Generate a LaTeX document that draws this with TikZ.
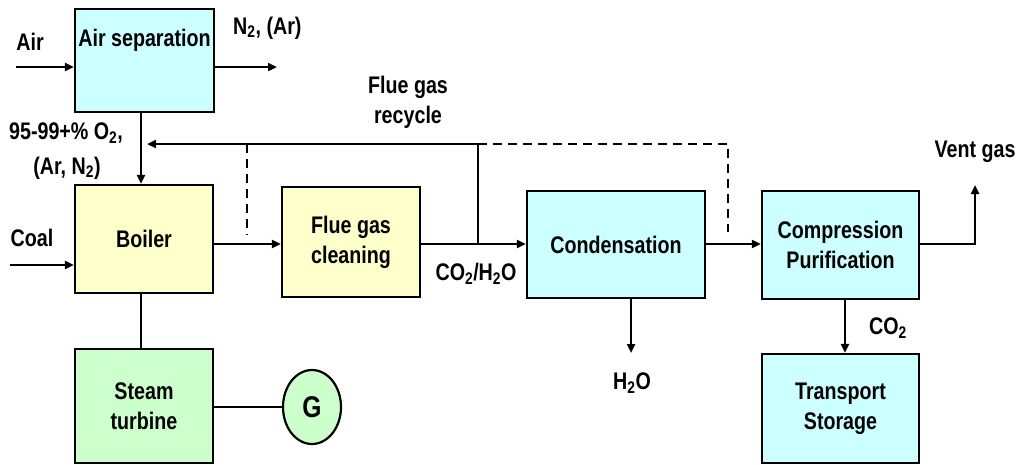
\documentclass[tikz,border=0pt]{standalone}
\usepackage{fontspec}
\setmainfont{Liberation Sans}[FakeStretch=0.82]
\usetikzlibrary{arrows.meta,shapes.geometric}
\definecolor{cy}{HTML}{CCFFFF}
\definecolor{yl}{HTML}{FFFFCC}
\definecolor{gr}{HTML}{CCFFCC}
\begin{document}
\begin{tikzpicture}[x=1pt,y=-1pt,
  box/.style={draw, line width=2.2pt, inner sep=0pt, align=center,
              font=\fontsize{24}{30}\selectfont\bfseries},
  lbl/.style={font=\fontsize{24}{30}\selectfont\bfseries, align=center, inner sep=0pt},
  ln/.style={line width=2.5pt},
  arr/.style={ln, -{Triangle[length=9pt,width=8pt]}},
  dsh/.style={ln, dash pattern=on 9pt off 6pt}]
\useasboundingbox (0,0) rectangle (1019,464);

% boxes
\node (as) [box, fill=cy, minimum width=139pt, minimum height=103pt] at (144.5,60.5) {};
\node (astext) [lbl] at (144.5,40) {Air separation};
\node (boiler) [box, fill=yl, minimum width=138pt, minimum height=108pt] at (144,239) {Boiler};
\node (fgc) [box, fill=yl, minimum width=138pt, minimum height=110pt] at (351,242) {Flue gas\\cleaning};
\node (cond) [box, fill=cy, minimum width=178pt, minimum height=107pt] at (616,244.5) {Condensation};
\node (comp) [box, fill=cy, minimum width=157pt, minimum height=108pt] at (840.5,245) {Compression\\Purification};
\node (trans) [box, fill=cy, minimum width=157pt, minimum height=109pt] at (840.5,408.5) {Transport\\Storage};
\node (st) [box, fill=gr, minimum width=138pt, minimum height=114pt] at (144,406) {Steam\\turbine};
\node (G) [draw, ellipse, line width=2.2pt, fill=gr, inner sep=0pt, minimum width=58pt, minimum height=74pt,
           font=\fontsize{30}{36}\selectfont\bfseries] at (312,407) {G};

% labels
\node (lair) [lbl] at (30,42) {Air};
\node (lcoal) [lbl] at (32,238) {Coal};
\node (ln2) [lbl, anchor=west] at (233,28) {N\textsubscript{2}, (Ar)};
\node (lo2a) [lbl] at (66,133) {95-99+\% O\textsubscript{2},};
\node (lo2b) [lbl] at (67,168) {(Ar, N\textsubscript{2})};
\node (lrec) [lbl] at (408,102) {Flue gas\\recycle};
\node (lcoh) [lbl] at (476,274) {CO\textsubscript{2}/H\textsubscript{2}O};
\node (lh2o) [lbl] at (632,383) {H\textsubscript{2}O};
\node (lco2) [lbl] at (888,328) {CO\textsubscript{2}};
\node (lvent) [lbl] at (975,152) {Vent gas};

% coordinates for free ends
\coordinate (airin) at (16,67);
\coordinate (n2out) at (277,67);
\coordinate (coalin) at (10,265);
\coordinate (ox) at (141,0);
\coordinate (br) at (478,244);
\coordinate (rt) at (478,144);
\coordinate (rtip) at (147,144);
\coordinate (dl) at (247,144);
\coordinate (dlb) at (247,235);
\coordinate (dr) at (728,144);
\coordinate (drb) at (728,232);
\coordinate (vc) at (975,244);
\coordinate (vt) at (975,185);
\coordinate (h2o) at (631,353);
\coordinate (co2x) at (845,0);

% connectors
\draw[arr] (airin) -- (airin -| as.west);
\draw[arr] (n2out -| as.east) -- (n2out);
\draw[arr] (coalin) -- (coalin -| boiler.west);
\draw[arr] (ox |- as.south) -- (ox |- boiler.north);
\draw[ln] (ox |- boiler.south) -- (ox |- st.north);
\draw[ln] (G.west) -- (G.west -| st.east);
\draw[arr] (boiler.east |- br) -- (fgc.west |- br);
\draw[arr] (fgc.east |- br) -- (cond.west |- br);
\draw[arr] (br) -- (rt) -- (rtip);
\draw[dsh] (rt) -- (dr) -- (drb);
\draw[dsh] (dl) -- (dlb);
\draw[arr] (cond.east |- br) -- (comp.west |- br);
\draw[arr] (comp.east |- vc) -- (vc) -- (vt);
\draw[arr] (h2o |- cond.south) -- (h2o);
\draw[arr] (co2x |- comp.south) -- (co2x |- trans.north);
\end{tikzpicture}
\end{document}
